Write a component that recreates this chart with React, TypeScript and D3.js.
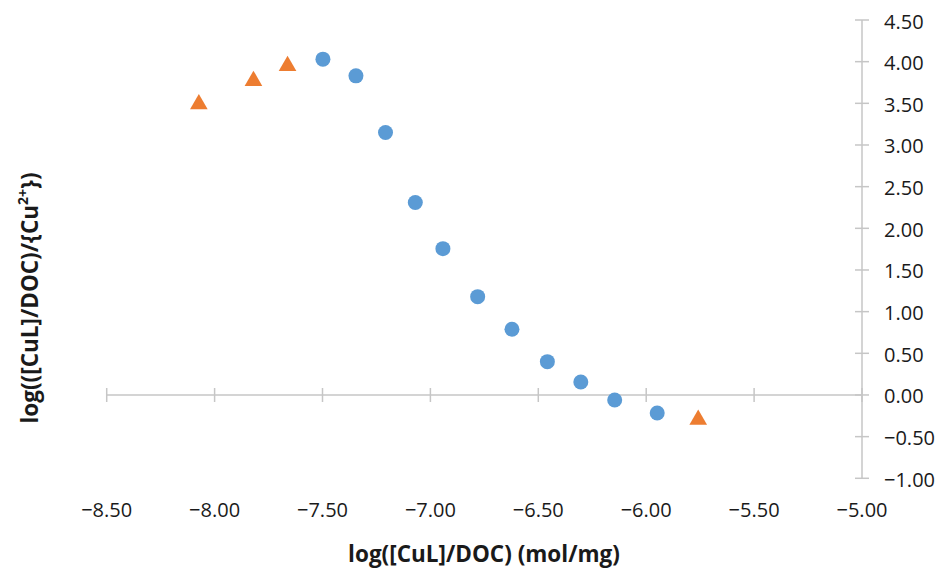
import React from "react";
import * as d3 from "d3";

const circleX = [-7.498, -7.345, -7.208, -7.07, -6.942, -6.781, -6.622, -6.458, -6.303, -6.146, -5.949];
const circleY = [4.03, 3.83, 3.15, 2.31, 1.756, 1.18, 0.789, 0.4, 0.156, -0.06, -0.216];
const triX = [-8.073, -7.82, -7.662, -5.759];
const triY = [3.49, 3.77, 3.95, -0.296];
const xTicks = [-8.5, -8.0, -7.5, -7.0, -6.5, -6.0, -5.5, -5.0];
const yTicks = [-1.0, -0.5, 0, 0.5, 1.0, 1.5, 2.0, 2.5, 3.0, 3.5, 4.0, 4.5];

const W = 938;
const H = 573;
const FONT = "'Open Sans', 'DejaVu Sans', sans-serif";
const AXIS = "#C6C6C6";
const TXT = "#1a1a1a";

export default function App() {
  const x = d3.scaleLinear().domain([-8.5, -5]).range([106.7, 862]);
  const y = d3.scaleLinear().domain([-1, 4.5]).range([478.3, 20]);
  const x0 = x(-5);
  const y0 = y(0);
  const tri = d3.symbol().type(d3.symbolTriangle).size(135);
  const fmt = d3.format(".2f");

  return (
    <svg width={W} height={H} style={{ position: "absolute", left: 0, top: 0, background: "#fff" }}>
      {/* x axis */}
      <line x1={x(-8.5)} x2={x(-5)} y1={y0} y2={y0} stroke={AXIS} strokeWidth={1.5} />
      {xTicks.map((t) => (
        <line key={"xt" + t} x1={x(t)} x2={x(t)} y1={y0 - 7} y2={y0 + 7} stroke={AXIS} strokeWidth={1.5} />
      ))}
      {/* y axis */}
      <line x1={x0} x2={x0} y1={y(4.5)} y2={y(-1)} stroke={AXIS} strokeWidth={1.5} />
      {yTicks.map((t) => (
        <line key={"yt" + t} x1={x0 - 7} x2={x0 + 7} y1={y(t)} y2={y(t)} stroke={AXIS} strokeWidth={1.5} />
      ))}
      {/* tick labels */}
      {xTicks.map((t) => (
        <text key={"xl" + t} x={x(t)} y={509} textAnchor="middle" dominantBaseline="central"
          fontFamily={FONT} fontSize={20} fill={TXT}>{fmt(t)}</text>
      ))}
      {yTicks.map((t) => (
        <text key={"yl" + t} x={884} y={y(t) + 1} textAnchor="start" dominantBaseline="central"
          fontFamily={FONT} fontSize={20} fill={TXT}>{fmt(t)}</text>
      ))}
      {/* markers */}
      {circleX.map((v, i) => (
        <circle key={"c" + i} cx={x(v)} cy={y(circleY[i])} r={7.5} fill="#5B9BD5" />
      ))}
      {triX.map((v, i) => (
        <path key={"t" + i} d={tri() as string} transform={`translate(${x(v)},${y(triY[i])})`} fill="#ED7D31" />
      ))}
      {/* titles */}
      <text x={484} y={553} textAnchor="middle" dominantBaseline="central" fontFamily={FONT}
        fontSize={22.5} fontWeight="bold" fill={TXT}>log([CuL]/DOC) (mol/mg)</text>
      <text transform="translate(38,298) rotate(-90)" textAnchor="middle" fontFamily={FONT}
        fontSize={22.5} fontWeight="bold" fill={TXT}>
        log(([CuL]/DOC)/{"{"}Cu<tspan fontSize={14} dy={-10}>2+</tspan><tspan dy={10}>{"})"}</tspan>
      </text>
    </svg>
  );
}
